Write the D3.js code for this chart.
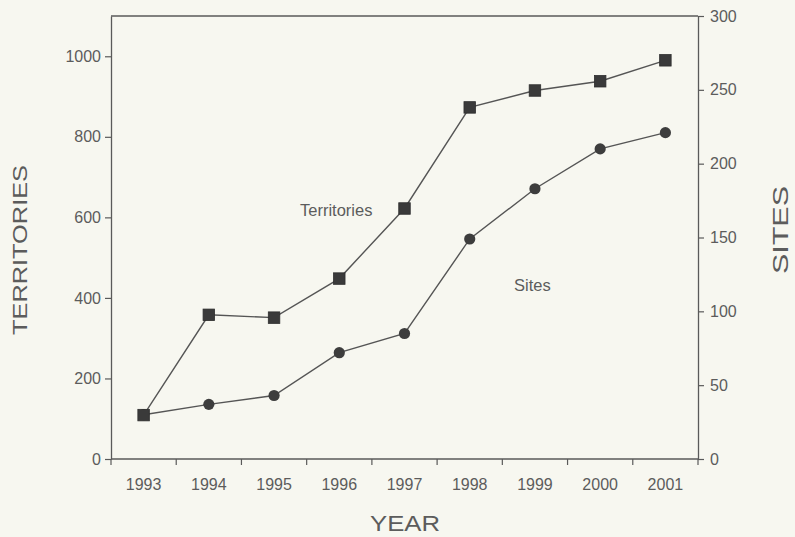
<!DOCTYPE html>
<html>
<head>
<meta charset="utf-8">
<script src="https://cdn.jsdelivr.net/npm/d3@7/dist/d3.min.js"></script>
<style>
  html, body { margin: 0; padding: 0; background: #f7f7f0; }
  svg { display: block; }
  text { font-family: "Liberation Sans", Arial, Helvetica, sans-serif; fill: #5c5c5c; }
</style>
</head>
<body>
<svg id="chart" width="795" height="537"></svg>
<script>
// Yearly counts: territories (left axis) and sites (right axis)
const years = [1993, 1994, 1995, 1996, 1997, 1998, 1999, 2000, 2001];
const territories = [109, 358, 351, 448, 622, 873, 915, 938, 990];
const sites = [30, 37, 43, 72, 85, 149, 183, 210, 221];
const territoryTicks = [0, 200, 400, 600, 800, 1000];
const siteTicks = [0, 50, 100, 150, 200, 250, 300];

const svg = d3.select("#chart");
const margin = { left: 111, right: 698, top: 16, bottom: 459 };
const ink = "#5a5a5a";

const x = d3.scaleBand().domain(years).range([margin.left, margin.right]);
const yT = d3.scaleLinear().domain([0, 1100]).range([margin.bottom, margin.top]);
const yS = d3.scaleLinear().domain([0, 300]).range([margin.bottom, margin.top]);
const cx = d => x(d) + x.bandwidth() / 2;

// Top border of the plot box
svg.append("line")
  .attr("x1", margin.left).attr("x2", margin.right)
  .attr("y1", margin.top).attr("y2", margin.top)
  .attr("stroke", ink).attr("stroke-width", 1.3);

// Left axis (territories)
const leftAxis = svg.append("g")
  .attr("transform", `translate(${margin.left},0)`)
  .call(d3.axisLeft(yT).tickValues(territoryTicks).tickFormat(d3.format("d"))
    .tickSize(6).tickPadding(4).tickSizeOuter(0));

// Right axis (sites)
const rightAxis = svg.append("g")
  .attr("transform", `translate(${margin.right},0)`)
  .call(d3.axisRight(yS).tickValues(siteTicks).tickFormat(d3.format("d"))
    .tickSize(6).tickPadding(6).tickSizeOuter(0));

// Bottom axis: ticks at band edges, labels at band centres
const bottomAxis = svg.append("g")
  .attr("transform", `translate(0,${margin.bottom})`);
bottomAxis.append("line")
  .attr("x1", margin.left).attr("x2", margin.right)
  .attr("stroke", ink).attr("stroke-width", 1.3);
const edges = years.map(d => x(d)).concat([x(years[years.length - 1]) + x.bandwidth()]);
bottomAxis.selectAll("line.tick")
  .data(edges)
  .join("line")
  .attr("class", "tick")
  .attr("x1", d => d).attr("x2", d => d)
  .attr("y1", 0).attr("y2", 6)
  .attr("stroke", ink).attr("stroke-width", 1.2);
bottomAxis.selectAll("text.year")
  .data(years)
  .join("text")
  .attr("class", "year")
  .attr("x", d => cx(d))
  .attr("y", 31)
  .attr("text-anchor", "middle")
  .attr("font-size", 16)
  .text(d => d);

[leftAxis, rightAxis].forEach(g => {
  g.select(".domain").attr("stroke", ink).attr("stroke-width", 1.3);
  g.selectAll(".tick line").attr("stroke", ink).attr("stroke-width", 1.2);
  g.selectAll(".tick text").attr("font-size", 16).attr("fill", "#5c5c5c");
});

// Series lines
const lineT = d3.line().x((d, i) => cx(years[i])).y(d => yT(d));
const lineS = d3.line().x((d, i) => cx(years[i])).y(d => yS(d));

svg.append("path").datum(sites)
  .attr("d", lineS).attr("fill", "none")
  .attr("stroke", "#555").attr("stroke-width", 1.4);
svg.append("path").datum(territories)
  .attr("d", lineT).attr("fill", "none")
  .attr("stroke", "#555").attr("stroke-width", 1.4);

// Markers: circles for sites, squares for territories
svg.selectAll("circle.site")
  .data(sites)
  .join("circle")
  .attr("class", "site")
  .attr("cx", (d, i) => cx(years[i]))
  .attr("cy", d => yS(d))
  .attr("r", 5.6)
  .attr("fill", "#3d3d3d");

const sq = 11.5;
svg.selectAll("rect.territory")
  .data(territories)
  .join("rect")
  .attr("class", "territory")
  .attr("x", (d, i) => cx(years[i]) - sq / 2)
  .attr("y", d => yT(d) - sq / 2)
  .attr("width", sq).attr("height", sq)
  .attr("fill", "#3a3a3a")
  .attr("stroke", "#2e2e2e").attr("stroke-width", 0.8);

// In-plot series labels
svg.append("text").attr("x", 300).attr("y", 216)
  .attr("font-size", 16.5).text("Territories");
svg.append("text").attr("x", 514).attr("y", 291)
  .attr("font-size", 16.5).text("Sites");

// Axis titles
svg.append("text")
  .attr("transform", "translate(27,250) rotate(-90)")
  .attr("text-anchor", "middle")
  .attr("font-size", 21)
  .attr("textLength", 170).attr("lengthAdjust", "spacingAndGlyphs")
  .text("TERRITORIES");
svg.append("text")
  .attr("transform", "translate(788,230) rotate(-90)")
  .attr("text-anchor", "middle")
  .attr("font-size", 22)
  .attr("textLength", 88).attr("lengthAdjust", "spacingAndGlyphs")
  .text("SITES");
svg.append("text")
  .attr("x", 405).attr("y", 531)
  .attr("text-anchor", "middle")
  .attr("font-size", 22)
  .attr("textLength", 70).attr("lengthAdjust", "spacingAndGlyphs")
  .text("YEAR");
</script>
</body>
</html>
